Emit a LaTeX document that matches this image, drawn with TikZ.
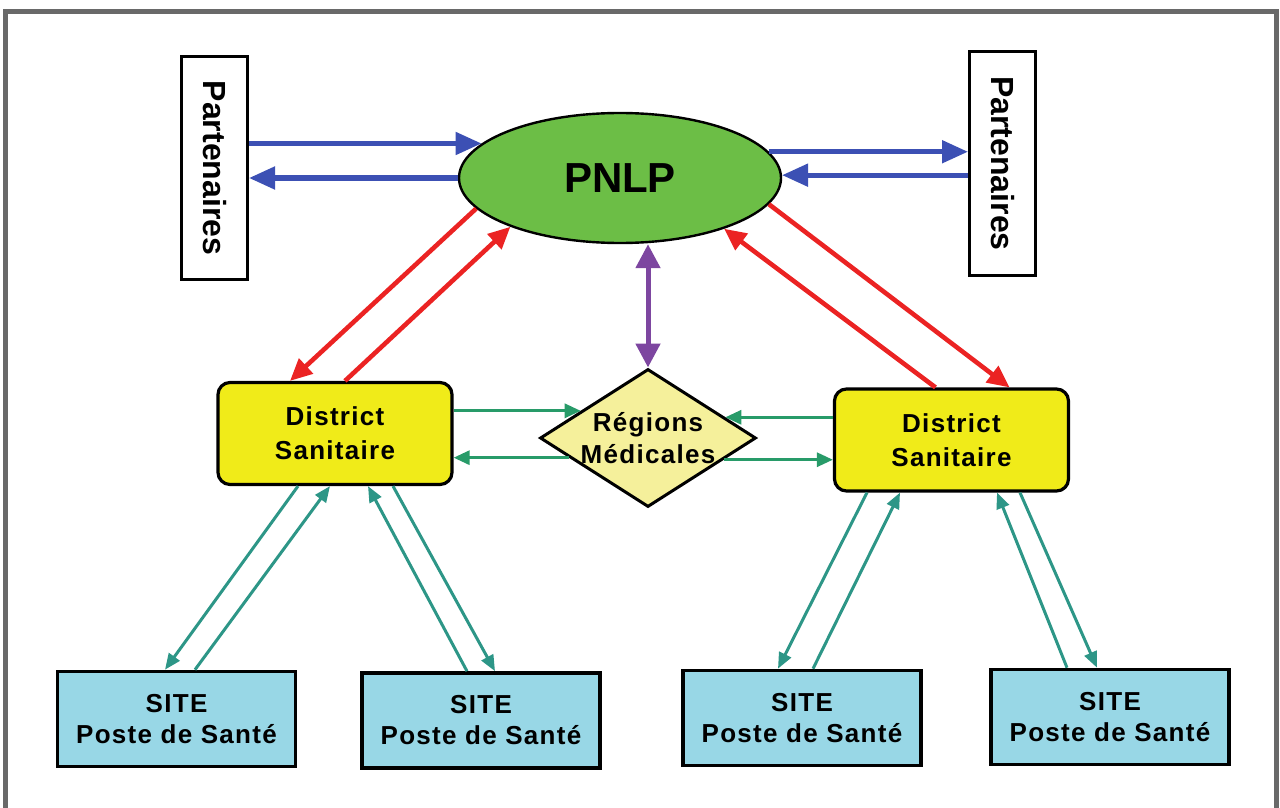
\documentclass[tikz,border=0pt]{standalone}
\usepackage{fontspec}
\setmainfont{Liberation Sans}
\newfontfamily\widefont[LetterSpace=5]{Liberation Sans}
\usetikzlibrary{arrows.meta,shapes.geometric,calc}

\definecolor{frameGray}{RGB}{105,105,105}
\definecolor{pnlpGreen}{RGB}{108,190,70}
\definecolor{flowBlue}{RGB}{60,80,180}
\definecolor{flowRed}{RGB}{235,35,35}
\definecolor{flowPurple}{RGB}{125,70,160}
\definecolor{flowGreen}{RGB}{40,155,105}
\definecolor{flowTeal}{RGB}{45,150,135}
\definecolor{distYellow}{RGB}{240,235,25}
\definecolor{regYellow}{RGB}{245,240,155}
\definecolor{siteBlue}{RGB}{152,215,230}

\begin{document}
\begin{tikzpicture}[x=0.5pt, y=-0.5pt,
  partner/.style={draw, line width=1.5pt, fill=white, minimum width=33pt,
                  minimum height=111.5pt, inner sep=0pt,
                  font=\bfseries\fontsize{16}{18}\selectfont},
  district/.style={draw, line width=1.6pt, rounded corners=6pt, fill=distYellow,
                   minimum width=117pt, minimum height=51pt, align=center,
                   font=\widefont\bfseries\fontsize{13}{17}\selectfont},
  site/.style={draw, line width=1.8pt, fill=siteBlue, minimum width=119pt,
                minimum height=47.5pt, align=center,
                font=\widefont\bfseries\fontsize{13}{15.5}\selectfont},
  blueflow/.style={line width=2.5pt, flowBlue, -{Triangle[length=13pt,width=11pt]}},
  redflow/.style={line width=2.3pt, flowRed, -{Triangle[length=11pt,width=10pt]}},
  greenflow/.style={line width=1.5pt, flowGreen, -{Triangle[length=8pt,width=7pt]}},
  siteflow/.style={line width=1.5pt, flowTeal, -{Triangle[length=8pt,width=6.5pt]}},
]
\useasboundingbox (0,0) rectangle (1280,808);
\draw[frameGray, line width=2.5pt] (5,810) -- (5,12) -- (1276,12) -- (1276,810);

% top level
\node[ellipse, draw, line width=1.2pt, fill=pnlpGreen, minimum width=161pt,
      minimum height=65pt, inner sep=0pt,
      font=\bfseries\fontsize{21}{25}\selectfont] (pnlp) at (620,178) {PNLP};
\node[partner] (pl) at (214.5,168) {\rotatebox{-90}{Partenaires}};
\node[partner] (pr) at (1002.5,163.5) {\rotatebox{-90}{Partenaires}};

% middle level
\node[district] (dl) at (335,433.5) {District\\Sanitaire};
\node[district] (dr) at (951.5,440) {District\\Sanitaire};
\node[diamond, draw, line width=1.5pt, fill=regYellow, aspect=1.565,
      minimum width=108pt, minimum height=69pt, inner xsep=-10pt, inner ysep=-8pt,
      align=center, font=\widefont\bfseries\fontsize{13}{16}\selectfont]
      (rm) at (648,438) {Régions\\Médicales};

% sites
\node[site] (s1) at (176.5,719) {SITE\\Poste de Santé};
\node[site] (s2) at (481,720.5) {SITE\\Poste de Santé};
\node[site] (s3) at (802,718) {SITE\\Poste de Santé};
\node[site] (s4) at (1110,717) {SITE\\Poste de Santé};

% partners <-> PNLP
\draw[blueflow] (pl.east |- pnlp.166) -- (pnlp.166);
\draw[blueflow] (pnlp.west) -- (pl.east |- pnlp.west);
\draw[blueflow] (pnlp.10) -- (pr.west |- pnlp.10);
\draw[blueflow] (pr.west |- pnlp.1) -- (pnlp.1);

% PNLP <-> districts
\draw[redflow] (pnlp.192) -- ($(dl.north)+(-45,0)$);
\draw[redflow] ($(dl.north)+(10,0)$) -- (pnlp.204);
\draw[redflow] ($(dr.north)+(-16,0)$) -- (pnlp.-26);
\draw[redflow] (pnlp.-10) -- ($(dr.north)+(58,0)$);
\draw[line width=2.5pt, flowPurple, {Triangle[length=12pt,width=12pt]}-{Triangle[length=12pt,width=12pt]}]
  (rm.north |- pnlp.south) -- (rm.north);

% districts <-> regions
\draw[greenflow] (dl.east |- rm.158) -- (rm.158);
\draw[greenflow] (rm.194) -- (dl.east |- rm.194);
\draw[greenflow] (dr.west |- rm.15) -- (rm.15);
\draw[greenflow] (rm.-16) -- (dr.west |- rm.-16);

% districts <-> sites
\draw[siteflow] ($(dl.south)+(-37,0)$) -- ($(s1.north)+(-11.5,0)$);
\draw[siteflow] ($(s1.north)+(18.5,0)$) -- ($(dl.south)+(-5,0)$);
\draw[siteflow] ($(s2.north)+(-14,0)$) -- ($(dl.south)+(33,0)$);
\draw[siteflow] ($(dl.south)+(58,0)$) -- ($(s2.north)+(14,0)$);
\draw[siteflow] ($(dr.south)+(-84.5,0)$) -- ($(s3.north)+(-24,0)$);
\draw[siteflow] ($(s3.north)+(11,0)$) -- ($(dr.south)+(-51.5,0)$);
\draw[siteflow] ($(s4.north)+(-43,0)$) -- ($(dr.south)+(45.5,0)$);
\draw[siteflow] ($(dr.south)+(68.5,0)$) -- ($(s4.north)+(-13,0)$);
\end{tikzpicture}
\end{document}
